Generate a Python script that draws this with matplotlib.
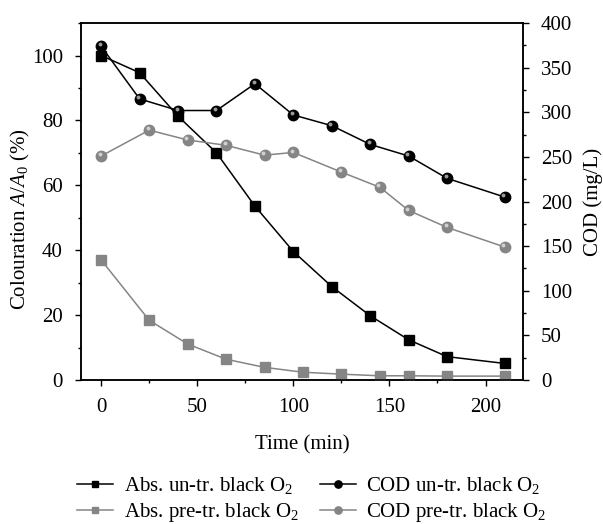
import numpy as np
import matplotlib
matplotlib.use("Agg")
import matplotlib.pyplot as plt
import matplotlib.transforms as mtransforms
from matplotlib.ticker import MultipleLocator

plt.rcParams['font.family'] = ['Liberation Serif', 'DejaVu Serif']
plt.rcParams['mathtext.fontset'] = 'custom'
plt.rcParams['mathtext.rm'] = 'Liberation Serif'
plt.rcParams['mathtext.it'] = 'Liberation Serif:italic'

# colouration (left axis, %)
t_abs_un = [0, 20, 40, 60, 80, 100, 120, 140, 160, 180, 210]
abs_un = [100, 94.7, 81.3, 70, 53.6, 39.6, 28.8, 19.8, 12.4, 7.2, 5.1]
t_abs_pre = [0, 25, 45, 65, 85, 105, 125, 145, 160, 180, 210]
abs_pre = [37, 18.4, 11.1, 6.4, 3.9, 2.4, 1.8, 1.3, 1.3, 1.2, 1.2]

# COD (right axis, mg/L)
t_cod_un = [0, 20, 40, 60, 80, 100, 120, 140, 160, 180, 210]
cod_un = [374, 315, 302, 302, 332, 297, 285, 264, 251, 226, 205]
t_cod_pre = [0, 25, 45, 65, 85, 100, 125, 145, 160, 180, 210]
cod_pre = [251, 280, 269, 263, 252, 255, 233, 216, 190, 171, 149]

black = '#000000'
gray = '#858585'

fig = plt.figure(figsize=(6.03, 5.24), dpi=100)
ax = fig.add_axes([0.1343, 0.2748, 0.733, 0.6812])
ax2 = ax.twinx()

fs = 15

l1, = ax.plot(t_abs_un, abs_un, color=black, marker='s', ms=6.5, lw=1.1,
              label='Abs. un-tr. black O$_2$', zorder=3)
l2, = ax.plot(t_abs_pre, abs_pre, color=gray, marker='s', ms=6.5, lw=1.1,
              label='Abs. pre-tr. black O$_2$', zorder=3)

l3, = ax2.plot(t_cod_un, cod_un, color=black, marker='o', ms=7.5, lw=1.1,
               label='COD un-tr. black O$_2$', zorder=3)
l4, = ax2.plot(t_cod_pre, cod_pre, color=gray, marker='o', ms=7.5, lw=1.1,
               label='COD pre-tr. black O$_2$', zorder=3)
# little highlight on the balls
hl = mtransforms.offset_copy(ax2.transData, fig=fig, x=-1.0, y=1.4, units='points')
ax2.plot(t_cod_un, cod_un, ls='none', marker='o', ms=2.8, color='#9a9a9a',
         mec='none', transform=hl, zorder=4)
ax2.plot(t_cod_pre, cod_pre, ls='none', marker='o', ms=2.8, color='#d0d0d0',
         mec='none', transform=hl, zorder=4)

ax.set_xlim(-10.5, 219.5)
ax.set_ylim(0, 110)
ax2.set_ylim(0, 400)

ax.xaxis.set_major_locator(MultipleLocator(50))
ax.xaxis.set_minor_locator(MultipleLocator(25))
ax.yaxis.set_major_locator(MultipleLocator(20))
ax.yaxis.set_minor_locator(MultipleLocator(10))
ax2.yaxis.set_major_locator(MultipleLocator(50))
ax2.yaxis.set_minor_locator(MultipleLocator(25))

for a in (ax, ax2):
    a.tick_params(which='major', direction='out', length=4, width=1, labelsize=fs, pad=9)
    a.tick_params(which='minor', direction='out', length=2.5, width=1)
    for s in a.spines.values():
        s.set_linewidth(1.1)
ax.tick_params(axis='y', which='both', right=False)
ax.tick_params(axis='x', which='both', top=False)

ax.set_xlabel('Time (min)', fontsize=fs, labelpad=13)
ax.set_ylabel('Colouration $A/A_0$ (%)', fontsize=fs)
ax.yaxis.set_label_coords(-0.11, 0.45)
ax2.set_ylabel('COD (mg/L)', fontsize=fs, labelpad=7.5)

fig.legend(handles=[l1, l2, l3, l4], loc='lower center', ncol=2,
           bbox_to_anchor=(0.517, -0.036), frameon=False, fontsize=fs,
           handlelength=1.73, handletextpad=0.5, columnspacing=1.0,
           labelspacing=0.25, markerscale=0.7)

fig.savefig('out.png', dpi=100)
